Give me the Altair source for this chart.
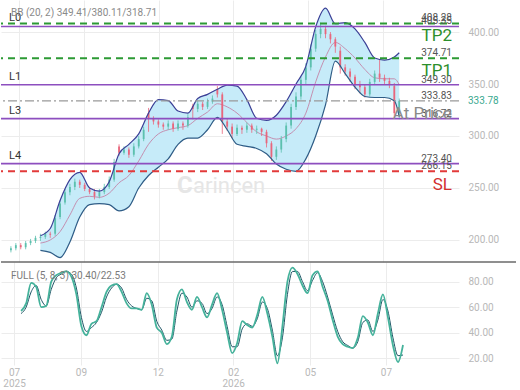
import altair as alt
import pandas as pd

# ---------------- data ----------------
bars = list(range(1, 81))
opens = [190,192,195,193,197,199,202,203,206,206,
         222,236,246,251,256,253,249,246,242,246,
         251,258,290,284,287,282,290,297,322,317,
         314,311,309,312,307,312,310,329,326,331,
         328,333,345,340,314,309,302,308,306,310,
         306,307,304,293,280,287,297,310,328,338,
         354,366,384,398,403,398,393,382,366,362,
         357,350,347,340,352,360,356,353,348,322]
closes = [192,195,193,197,199,202,203,206,205,221,
          235,246,251,256,253,249,246,242,246,251,
          258,275,284,287,282,290,297,306,317,314,
          311,309,312,307,312,310,318,326,331,328,
          333,336,340,314,309,302,308,306,310,306,
          307,304,293,280,287,297,310,328,338,354,
          366,384,398,403,398,393,386,366,362,357,
          350,347,340,352,360,356,353,350,322,333.78]
highs = [194,197,197,199,201,204,206,208,208,224,
         238,249,254,259,258,255,251,249,249,254,
         261,278,292,290,289,293,300,309,327,319,
         316,313,315,314,315,314,321,331,334,333,
         336,339,348,342,317,312,311,310,313,312,
         310,308,306,295,290,300,313,331,342,357,
         370,388,402,409,406,400,395,386,369,365,
         359,353,350,355,363,374,359,356,351,336]
lows = [188,190,191,191,195,197,199,201,202,204,
        220,234,243,248,250,247,244,239,240,244,
        249,256,281,282,279,280,288,295,304,311,
        308,306,306,304,305,306,308,316,323,325,
        326,331,337,302,305,298,300,302,303,303,
        302,300,289,276,277,284,294,307,325,335,
        350,363,381,394,394,389,380,360,358,352,
        345,341,337,338,349,352,350,346,318,316]

band_bars = [7,9,11,13,15,17,19,21,23,25,27,29,31,33,35,37,39,41,43,45,
             47,49,51,53,55,57,59,61,63,65,67,69,71,73,75,77,79,80]
bb_upper = [204,211,238,258,265,250,247,256,283,292,302,322,335,334,324,322,336,340,345,349,
            348,335,317,315,320,333,350,367,405,423,408,409,403,390,375,373,376,380.11]
bb_middle = [197,200,208,224,240,242,241,245,255,262,276,292,302,306,308,310,317,323,331,328,
             322,313,304,300,297,300,307,322,352,376,390,384,375,364,356,355,355,349.41]
bb_lower = [190,188,183,198,222,234,235,234,228,232,250,262,270,278,292,298,298,306,318,306,
            292,290,288,283,273,268,266,278,300,330,372,360,347,338,337,337,334,318.71]

stoch_bars = list(range(4, 81))
stoch_k = [57,63,79,76,60,61,80,85,87,88,
           84,70,45,38,47,49,60,72,77,78,
           72,63,59,59,58,71,62,44,40,31,
           37,66,74,64,58,68,60,52,62,71,
           58,40,24,32,49,46,44,54,68,55,
           37,16,45,80,91,86,77,71,85,88,
           76,65,50,37,31,29,28,36,53,48,
           38,55,70,52,30,17,30.4]
stoch_d = [55,60,72,77,66,61,74,83,86,88,
           86,75,52,41,44,48,56,68,75,78,
           75,66,61,59,58,67,65,49,42,34,
           35,57,71,68,60,65,63,55,59,68,
           62,45,29,29,43,47,45,51,64,59,
           42,22,36,70,88,88,80,73,81,87,
           80,68,54,41,33,30,28,33,48,50,
           41,50,66,57,36,22,22.53]

month_tick_bars = [2.6, 15.9, 31.2, 46.2, 61.5, 76.6]
month_tick_labels = [["07", "2025"], ["09"], ["12"], ["02", "2026"], ["05"], ["07"]]

purple_levels = [405.35, 349.30, 316.72, 273.40]
purple_names = ["L0", "L1", "L3", "L4"]
green_levels = [408.28, 374.71]
green_names = ["TP2", "TP1"]
red_levels = [266.15]
red_names = ["SL"]
price_level = [333.83]
last_price = 333.78
value_levels = [408.28, 405.35, 374.71, 349.30, 333.83, 316.72, 273.40, 266.15]

assert len(opens) == len(closes) == len(highs) == len(lows) == 80
assert len(band_bars) == len(bb_upper) == len(bb_middle) == len(bb_lower)
assert len(stoch_bars) == len(stoch_k) == len(stoch_d)

candles = pd.DataFrame({"bar": bars, "open": opens, "close": closes, "high": highs, "low": lows})
candles["dir"] = ["up" if c >= o else "down" for o, c in zip(opens, closes)]
bands = pd.DataFrame({"bar": band_bars, "upper": bb_upper, "middle": bb_middle, "lower": bb_lower})
stoch = pd.DataFrame({"bar": stoch_bars, "k": stoch_k, "d": stoch_d})
purple_df = pd.DataFrame({"value": purple_levels, "name": purple_names})
green_df = pd.DataFrame({"value": green_levels, "name": green_names})
red_df = pd.DataFrame({"value": red_levels, "name": red_names})
price_df = pd.DataFrame({"value": price_level})
vals_df = pd.DataFrame({"value": value_levels, "label": [f"{v:.2f}" for v in value_levels]})
atprice_df = pd.DataFrame({"value": [316.72], "name": ["At Price"]})
last_df = pd.DataFrame({"value": [last_price], "label": [f"{last_price:.2f}"]})
one = pd.DataFrame({"k": [0]})

# ---------------- scales / axes ----------------
W = 458
XDOM = [0, 91.14]
xscale = alt.Scale(domain=XDOM, nice=False, zero=False)
GRID = "#ececec"
LBL = "#b8b8b8"

thr = [(month_tick_bars[i] + month_tick_bars[i + 1]) / 2 for i in range(len(month_tick_bars) - 1)]
def lab(l):
    return "[" + ",".join(f"'{s}'" for s in l) + "]"
expr = lab(month_tick_labels[-1])
for t, l in reversed(list(zip(thr, month_tick_labels[:-1]))):
    expr = f"datum.value < {t:.2f} ? {lab(l)} : ({expr})"

x_main = alt.X("bar:Q", scale=xscale,
               axis=alt.Axis(values=month_tick_bars, labels=False, ticks=False, domain=False,
                             grid=True, gridColor=GRID, title=None))
x_stoch = alt.X("bar:Q", scale=xscale,
                axis=alt.Axis(values=month_tick_bars, labelExpr=expr, labelColor=LBL, labelFontSize=10,
                              labelPadding=2, labelLineHeight=11, labelFlush=False, ticks=False,
                              domain=False, grid=True, gridColor=GRID, title=None))

yscale = alt.Scale(domain=[178.8, 430.8], nice=False, zero=False)
yaxis = alt.Axis(orient="right", values=[200, 250, 300, 350, 400], format=".2f", labelColor=LBL,
                 labelFontSize=10, labelPadding=9, grid=True, gridColor=GRID, domain=False,
                 ticks=False, title=None)

def Y(field):
    return alt.Y(field, scale=yscale, axis=yaxis)

# ---------------- main panel ----------------
band_area = alt.Chart(bands).mark_area(color="#c6ebf9", interpolate="monotone").encode(
    x=x_main, y=Y("upper:Q"), y2="lower:Q")
band_up = alt.Chart(bands).mark_line(color="#3b3f96", strokeWidth=1.2, interpolate="monotone").encode(
    x=x_main, y=Y("upper:Q"))
band_lo = alt.Chart(bands).mark_line(color="#2e5c86", strokeWidth=1.2, interpolate="monotone").encode(
    x=x_main, y=Y("lower:Q"))
band_mid = alt.Chart(bands).mark_line(color="#c48fb0", strokeWidth=1, interpolate="monotone").encode(
    x=x_main, y=Y("middle:Q"))

ccolor = alt.Color("dir:N", scale=alt.Scale(domain=["up", "down"], range=["#5cc0ae", "#e8667c"]), legend=None)
wicks = alt.Chart(candles).mark_rule(strokeWidth=0.8).encode(x=x_main, y=Y("low:Q"), y2="high:Q", color=ccolor)
bodies = alt.Chart(candles).mark_bar(size=1.8).encode(x=x_main, y=Y("open:Q"), y2="close:Q", color=ccolor)

purple_rules = alt.Chart(purple_df).mark_rule(color="#8d4fbf", strokeWidth=1.6).encode(y=Y("value:Q"))
green_rules = alt.Chart(green_df).mark_rule(color="#2c9a34", strokeWidth=2, strokeDash=[7, 5]).encode(y=Y("value:Q"))
red_rules = alt.Chart(red_df).mark_rule(color="#e23a3a", strokeWidth=2, strokeDash=[7, 5]).encode(y=Y("value:Q"))
price_rule = alt.Chart(price_df).mark_rule(color="#999999", strokeWidth=1.3, strokeDash=[9, 3, 2, 3]).encode(y=Y("value:Q"))

left_names = alt.Chart(purple_df).mark_text(align="left", baseline="bottom", dy=-3, fontSize=11, color="#333").encode(
    x=alt.value(8), y=Y("value:Q"), text="name:N")
val_text = alt.Chart(vals_df).mark_text(align="right", baseline="alphabetic", dy=-2, fontSize=10, color="#555").encode(
    x=alt.value(451), y=Y("value:Q"), text="label:N")
green_text = alt.Chart(green_df).mark_text(align="right", baseline="top", dy=5, fontSize=17, color="#2c8f2c").encode(
    x=alt.value(451), y=Y("value:Q"), text="name:N")
red_text = alt.Chart(red_df).mark_text(align="right", baseline="top", dy=6, fontSize=17, color="#d32f2f").encode(
    x=alt.value(451), y=Y("value:Q"), text="name:N")
atprice_text = alt.Chart(atprice_df).mark_text(align="right", baseline="middle", dy=-5, fontSize=17, color="#8a8a8a").encode(
    x=alt.value(451), y=Y("value:Q"), text="name:N")
last_text = alt.Chart(last_df).mark_text(align="left", baseline="middle", fontSize=10, color="#3aa98f").encode(
    x=alt.value(W + 9), y=Y("value:Q"), text="label:N")
bb_text = alt.Chart(one).mark_text(align="left", baseline="middle", fontSize=10, color="#8a8a8a").encode(
    x=alt.value(10), y=alt.value(13), text=alt.value("BB (20, 2)  349.41/380.11/318.71"))
wm_logo = alt.Chart(one).mark_text(align="left", baseline="middle", fontSize=24, fontWeight="bold", color="#e6e6e6").encode(
    x=alt.value(176), y=alt.value(186), text=alt.value("C"))
wm_text = alt.Chart(one).mark_text(align="left", baseline="middle", fontSize=22, color="#e6e6e6").encode(
    x=alt.value(192), y=alt.value(186), text=alt.value("arincen"))

main = alt.layer(
    wm_logo, wm_text, band_area, band_mid, wicks, bodies, band_up, band_lo,
    purple_rules, green_rules, red_rules, price_rule,
    left_names, val_text, green_text, red_text, atprice_text, last_text, bb_text
).properties(width=W, height=262)

# ---------------- stochastic panel ----------------
sscale = alt.Scale(domain=[14.7, 95.4], nice=False, zero=False)
saxis = alt.Axis(orient="right", values=[20, 40, 60, 80], format=".2f", labelColor=LBL, labelFontSize=10,
                 labelPadding=9, grid=True, gridColor=GRID, domain=False, ticks=False, title=None)
k_line = alt.Chart(stoch).mark_line(color="#45b29b", strokeWidth=1.8, interpolate="monotone").encode(
    x=x_stoch, y=alt.Y("k:Q", scale=sscale, axis=saxis))
d_line = alt.Chart(stoch).mark_line(color="#1f5566", strokeWidth=1, interpolate="monotone").encode(
    x=x_stoch, y=alt.Y("d:Q", scale=sscale, axis=saxis))
divider = alt.Chart(one).mark_rule(color="#6a6a6a", strokeWidth=1.5).encode(
    x=alt.value(0), x2=alt.value(515), y=alt.value(0))
full_text = alt.Chart(one).mark_text(align="left", baseline="middle", fontSize=10, color="#7a7a7a").encode(
    x=alt.value(10), y=alt.value(14), text=alt.value("FULL (5, 8, 3)   30.40/22.53"))

lower_panel = alt.layer(d_line, k_line, divider, full_text).properties(width=W, height=103)

chart = alt.vconcat(main, lower_panel, spacing=0, bounds="flush").properties(
    padding={"left": 0, "top": 0, "right": 0, "bottom": 0}
).configure(font="Roboto").configure_view(stroke=None)

chart.save("out.html", embed_options={"renderer": "svg", "actions": False})
